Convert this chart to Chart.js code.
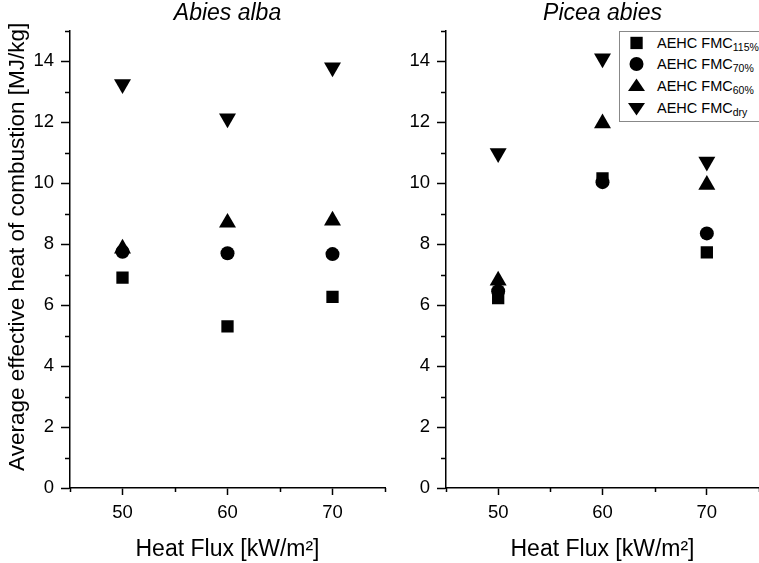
<!DOCTYPE html>
<html>
<head>
<meta charset="utf-8">
<script src="https://cdn.jsdelivr.net/npm/chart.js@4/dist/chart.umd.min.js"></script>
<style>
  body { margin: 0; width: 759px; height: 563px; overflow: hidden; position: relative; background: #fff; font-family: "Liberation Sans", Arial, sans-serif; }
  canvas { position: absolute; top: 0; }
  #legend { position: absolute; left: 619px; top: 31px; width: 150px; height: 89px; border: 1px solid #888; background: #fff; }
  #legend .row { position: absolute; left: 0; height: 20px; line-height: 20px; font-size: 14.5px; color: #000; white-space: nowrap; }
  #legend svg { position: absolute; left: 1px; top: 0; }
  #legend span { position: absolute; left: 37px; top: 0; }
  #legend sub { font-size: 10.5px; vertical-align: -3px; line-height: 0; }
</style>
</head>
<body>
<canvas id="left" width="390" height="563" style="left:0"></canvas>
<canvas id="right" width="369" height="563" style="left:390px"></canvas>
<div id="legend">
  <div class="row" style="top:1px"><svg width="30" height="20"><rect x="9.4" y="3.8" width="12.3" height="12.3" fill="#000"/></svg><span>AEHC FMC<sub>115%</sub></span></div>
  <div class="row" style="top:22px"><svg width="30" height="20"><circle cx="15.5" cy="10" r="7" fill="#000"/></svg><span>AEHC FMC<sub>70%</sub></span></div>
  <div class="row" style="top:44px"><svg width="30" height="20"><polygon points="15.5,2.6 24,14.9 7,14.9" fill="#000"/></svg><span>AEHC FMC<sub>60%</sub></span></div>
  <div class="row" style="top:66px"><svg width="30" height="20"><polygon points="15.5,17.4 24,5.1 7,5.1" fill="#000"/></svg><span>AEHC FMC<sub>dry</sub></span></div>
</div>
<script>
// heat flux levels [kW/m2]
var fluxLevels = [50, 60, 70];

// Abies alba, average effective heat of combustion [MJ/kg]
var abiesFmc115 = [6.9, 5.3, 6.27];
var abiesFmc70 = [7.75, 7.7, 7.67];
var abiesFmc60 = [7.85, 8.7, 8.77];
var abiesDry = [13.24, 12.12, 13.79];

// Picea abies
var piceaFmc115 = [6.23, 10.15, 7.73];
var piceaFmc70 = [6.45, 10.03, 8.35];
var piceaFmc60 = [6.8, 11.96, 9.94];
var piceaDry = [10.98, 14.09, 10.7];

var xTickLabels = ['50', '60', '70'];
var yTickLabels = ['0', '2', '4', '6', '8', '10', '12', '14'];

var FONT = '"Liberation Sans", Arial, sans-serif';
// leading no-break spaces nudge the rotated title up a little, as in the original
var Y_TITLE = '\u00a0\u00a0\u00a0\u00a0Average effective heat of combustion [MJ/kg]';

function points(values) {
    return values.map(function (v, i) { return { x: fluxLevels[i], y: v }; });
}

function makeDatasets(s115, s70, s60, sDry) {
    return [
        { label: 'AEHC FMC115%', data: points(s115), pointStyle: 'rect', pointRadius: 8.7 },
        { label: 'AEHC FMC70%', data: points(s70), pointStyle: 'circle', pointRadius: 7 },
        { label: 'AEHC FMC60%', data: points(s60), pointStyle: 'triangle', pointRadius: 9.8 },
        { label: 'AEHC FMCdry', data: points(sDry), pointStyle: 'triangle', pointRadius: 9.8, rotation: 180 }
    ].map(function (d) {
        d.backgroundColor = '#000';
        d.borderColor = '#000';
        d.borderWidth = 0;
        d.showLine = false;
        return d;
    });
}

// short ticks at the unlabelled positions
var minorTicks = {
    id: 'minorTicks',
    afterDraw: function (chart) {
        var ctx = chart.ctx, xs = chart.scales.x, ys = chart.scales.y;
        ctx.save();
        ctx.strokeStyle = '#000';
        ctx.lineWidth = 1.5;
        ctx.beginPath();
        xs.ticks.forEach(function (t) {
            if (xTickLabels.indexOf(String(t.value)) < 0) {
                var px = Math.round(xs.getPixelForValue(t.value)) + 0.5;
                ctx.moveTo(px, xs.top);
                ctx.lineTo(px, xs.top + 4);
            }
        });
        ys.ticks.forEach(function (t) {
            if (yTickLabels.indexOf(String(t.value)) < 0) {
                var py = Math.round(ys.getPixelForValue(t.value)) + 0.5;
                ctx.moveTo(ys.right - 5, py);
                ctx.lineTo(ys.right, py);
            }
        });
        ctx.stroke();
        ctx.restore();
    }
};

function makeChart(id, title, datasets, yWidth, showYTitle, padRight) {
    return new Chart(document.getElementById(id).getContext('2d'), {
        type: 'scatter',
        data: { datasets: datasets },
        plugins: [minorTicks],
        options: {
            responsive: false,
            animation: false,
            events: [],
            layout: { autoPadding: false, padding: { left: 0, right: padRight, top: 0, bottom: 0 } },
            plugins: {
                legend: { display: false },
                tooltip: { enabled: false },
                title: {
                    display: true,
                    text: title,
                    fullSize: false,
                    color: '#000',
                    font: { family: FONT, size: 23, style: 'italic', weight: 'normal' },
                    padding: { top: 0, bottom: 3 }
                }
            },
            scales: {
                x: {
                    type: 'linear',
                    min: 45,
                    max: 75,
                    afterFit: function (s) {
                        s.height = 75;
                        s.paddingLeft = 0;
                        s.paddingRight = 0;
                    },
                    ticks: {
                        stepSize: 5,
                        color: '#000',
                        font: { family: FONT, size: 18.5 },
                        padding: 7,
                        maxRotation: 0,
                        callback: function (v) { return xTickLabels.indexOf(String(v)) >= 0 ? String(v) : ''; }
                    },
                    grid: {
                        drawOnChartArea: false,
                        tickLength: 7,
                        tickWidth: 1.5,
                        tickColor: function (c) { return c.tick && xTickLabels.indexOf(String(c.tick.value)) >= 0 ? '#000' : 'rgba(0,0,0,0)'; }
                    },
                    border: { display: true, color: '#000', width: 1.5 },
                    title: {
                        display: true,
                        text: 'Heat Flux [kW/m²]',
                        color: '#000',
                        font: { family: FONT, size: 23 },
                        padding: { top: 0, bottom: 0 }
                    }
                },
                y: {
                    min: 0,
                    max: 15,
                    afterFit: function (s) {
                        s.width = yWidth;
                        s.paddingTop = 0;
                        s.paddingBottom = 0;
                    },
                    ticks: {
                        stepSize: 1,
                        color: '#000',
                        font: { family: FONT, size: 18.5 },
                        padding: 7,
                        callback: function (v) { return yTickLabels.indexOf(String(v)) >= 0 ? String(v) : ''; }
                    },
                    grid: {
                        drawOnChartArea: false,
                        tickLength: 9,
                        tickWidth: 1.5,
                        tickColor: function (c) { return c.tick && yTickLabels.indexOf(String(c.tick.value)) >= 0 ? '#000' : 'rgba(0,0,0,0)'; }
                    },
                    border: { display: true, color: '#000', width: 1.5 },
                    title: {
                        display: showYTitle,
                        text: Y_TITLE,
                        color: '#000',
                        font: { family: FONT, size: 22.5 },
                        padding: { top: 4, bottom: 0 }
                    }
                }
            }
        }
    });
}

makeChart('left', 'Abies alba', makeDatasets(abiesFmc115, abiesFmc70, abiesFmc60, abiesDry), 70, true, 5);
makeChart('right', 'Picea abies', makeDatasets(piceaFmc115, piceaFmc70, piceaFmc60, piceaDry), 56, false, 0);
</script>
</body>
</html>
